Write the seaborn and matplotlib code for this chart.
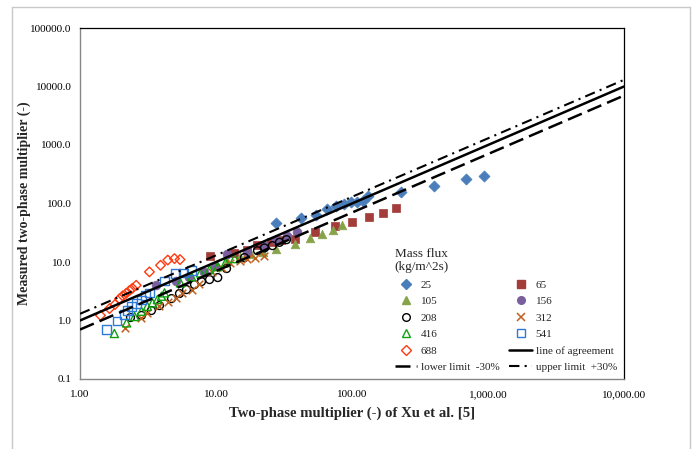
import matplotlib
matplotlib.use("Agg")
import matplotlib.pyplot as plt
import seaborn as sns
import numpy as np
from matplotlib.lines import Line2D
from matplotlib.ticker import FixedLocator, FuncFormatter

sns.set_theme(style="white")
plt.rcParams['font.family'] = ['Liberation Serif', 'DejaVu Serif']

# ---- data ----
x25 = [27.7, 42.3, 54.6, 65.5, 76.7, 87.4, 98.3, 109.2, 120, 132.2, 230, 404, 691, 942]
y25 = [47.0, 57.2, 64.4, 81.5, 89.9, 99.2, 104.4, 106, 109.5, 133.2, 156, 199, 262, 300]

x65 = [8.96, 13.45, 16.8, 19.9, 25.2, 30.3, 38.4, 53, 75.6, 100.3, 132.9, 168.5, 211.3]
y65 = [12.5, 14.5, 16.3, 19.8, 22.3, 24.1, 25.1, 32.6, 41.8, 48, 58.4, 69.7, 84.1]

x105 = [12.0, 15.0, 18.0, 22.0, 27.7, 38.2, 48.7, 60.2, 72.2, 84.7]
y105 = [10.5, 12.0, 13.5, 15.0, 16.7, 20.4, 25.8, 30.2, 35.0, 43.5]

x156 = [3.65, 5.12, 6.38, 8.23, 9.75, 11.95, 16.8, 23.1, 27.8, 33, 39.1]
y156 = [4.11, 4.82, 5.63, 6.86, 8.68, 13.9, 15.05, 18.5, 24.1, 27.5, 32.4]

x208 = [2.35, 2.83, 3.35, 3.84, 4.71, 5.39, 6.07, 6.95, 7.82, 8.96, 10.3, 11.95, 16.2, 20.2, 22.7, 26.0, 29.3, 33]
y208 = [1.125, 1.22, 1.48, 1.80, 2.37, 2.89, 3.38, 4.11, 4.63, 5.01, 5.42, 7.72, 11.9, 15.6, 17.4, 19.05, 21.7, 24.1]

x312 = [2.14, 2.81, 3.13, 3.84, 4.40, 5.12, 5.67, 6.61, 7.56, 9.42, 10.98, 12.57, 14.9, 17.0, 19.5, 22.4]
y312 = [0.73, 1.125, 1.32, 1.77, 2.07, 2.47, 3.0, 3.38, 4.28, 6.86, 8.02, 9.77, 10.57, 11.43, 11.9, 12.9]

x416 = [1.79, 2.20, 2.52, 2.83, 3.13, 3.41, 3.71, 3.97, 4.18, 5.48, 6.61, 7.69, 8.96, 10.3, 11.75, 13.7]
y416 = [0.60, 0.91, 1.17, 1.44, 1.75, 2.0, 2.28, 2.60, 2.97, 4.40, 5.63, 6.52, 7.42, 8.35, 9.77, 11.43]

x541 = [1.57, 1.87, 2.12, 2.23, 2.39, 2.60, 2.83, 3.03, 3.24, 4.18, 5.04, 5.77, 6.61]
y541 = [0.70, 0.97, 1.27, 1.48, 1.73, 1.95, 2.24, 2.67, 2.97, 4.68, 6.34, 6.52, 7.13]

x688 = [1.415, 1.65, 1.81, 1.95, 2.06, 2.19, 2.31, 2.43, 2.59, 3.24, 3.91, 4.42, 4.95, 5.44]
y688 = [1.22, 1.60, 1.875, 2.35, 2.64, 2.92, 3.25, 3.56, 4.0, 6.78, 8.79, 10.8, 11.43, 11.0]

line_x = [1.0, 10000.0]
agreement = [1.0, 10000.0]
lower_factor = 0.7
upper_factor = 1.3

x_ticks = [1, 10, 100, 1000, 10000]
y_ticks = [0.1, 1, 10, 100, 1000, 10000, 100000]

# ---- figure ----
fig = plt.figure(figsize=(6.97, 4.49), dpi=100)
fig.patch.set_facecolor("white")
ax = fig.add_axes([80 / 697, 1 - 379 / 449, 544 / 697, 351 / 449])
ax.set_facecolor("white")

# outer chart border
border_col = "#C8C8C8"
fig.add_artist(Line2D([12 / 697, 12 / 697], [-0.1, 1 - 7 / 449], color=border_col, lw=1.0))
fig.add_artist(Line2D([12 / 697, 690 / 697], [1 - 7 / 449, 1 - 7 / 449], color=border_col, lw=1.0))
fig.add_artist(Line2D([690 / 697, 690 / 697], [-0.1, 1 - 7 / 449], color=border_col, lw=1.0))

series = [
    ("25", x25, y25, "D", "#4A7EBB", True, 32),
    ("65", x65, y65, "s", "#A33D3A", True, 36),
    ("105", x105, y105, "^", "#86A34A", True, 38),
    ("156", x156, y156, "o", "#7A5F9E", True, 40),
    ("208", x208, y208, "o", "#000000", False, 32),
    ("312", x312, y312, "x", "#C0601C", False, 30),
    ("416", x416, y416, "^", "#10A010", False, 34),
    ("541", x541, y541, "s", "#2F7AD6", False, 36),
    ("688", x688, y688, "D", "#FF3A10", False, 24),
]

handles = {}
for name, xs, ys, mk, col, filled, s in series:
    if mk == "x":
        sns.scatterplot(x=xs, y=ys, ax=ax, marker="x", s=s, color=col,
                        linewidth=1.1, zorder=3)
        h = Line2D([], [], ls="none", marker="x", color=col, markersize=5.5, mew=1.1)
    elif filled:
        sns.scatterplot(x=xs, y=ys, ax=ax, marker=mk, s=s, color=col,
                        edgecolor=col, linewidth=0.5, zorder=3)
        h = Line2D([], [], ls="none", marker=mk, color=col, mec=col,
                   markersize=5.5)
    else:
        sns.scatterplot(x=xs, y=ys, ax=ax, marker=mk, s=s, facecolor="none",
                        edgecolor=col, linewidth=1.0, zorder=3)
        h = Line2D([], [], ls="none", marker=mk, mfc="none", mec=col,
                   markersize=5.5, mew=1.0)
    handles[name] = h

lx = np.array(line_x)
la = np.array(agreement)
sns.lineplot(x=lx, y=la, ax=ax, color="black", lw=1.8, zorder=5)
sns.lineplot(x=lx, y=la * lower_factor, ax=ax, color="black", lw=1.8,
             zorder=5).lines[-1].set_dashes((6, 2.5))
l_up = sns.lineplot(x=lx, y=la * upper_factor, ax=ax, color="black", lw=1.5,
                    zorder=5).lines[-1]
l_up.set_dashes((5, 2.5, 1, 2.5))

ax.set_xscale("log")
ax.set_yscale("log")
ax.set_xlim(1, 10000)
ax.set_ylim(0.1, 100000)

ax.xaxis.set_major_locator(FixedLocator(x_ticks))
ax.yaxis.set_major_locator(FixedLocator(y_ticks))
ax.xaxis.set_minor_locator(FixedLocator([]))
ax.yaxis.set_minor_locator(FixedLocator([]))
ax.xaxis.set_major_formatter(FuncFormatter(lambda v, p: "{:,.2f}".format(v)))
ax.yaxis.set_major_formatter(FuncFormatter(lambda v, p: "{:.1f}".format(v)))
ax.tick_params(axis="both", which="major", labelsize=8, length=3, width=0.8,
               color="#868686", direction="out", labelcolor="black")
ax.tick_params(axis="y", pad=3)
ax.tick_params(axis="x", pad=5)
ax.grid(False)

for side in ["left", "bottom"]:
    ax.spines[side].set_color("#868686")
    ax.spines[side].set_linewidth(1.0)
for side in ["top", "right"]:
    ax.spines[side].set_color("black")
    ax.spines[side].set_linewidth(0.9)

ax.set_xlabel("Two-phase multiplier (-) of Xu et al. [5]", fontsize=10.6,
              fontweight="bold")
ax.set_ylabel("Measured two-phase multiplier (-)", fontsize=10,
              fontweight="bold")
ax.xaxis.set_label_coords(0.5, -0.077)
ax.yaxis.set_label_coords(-0.09, 0.5)

h_agree = Line2D([], [], color="black", lw=1.8)
h_low = Line2D([], [], color="black", lw=1.8, dashes=(6, 2.5))
h_up = Line2D([], [], color="black", lw=1.5, dashes=(5, 2.5, 1, 2.5))

leg_handles = [handles["25"], handles["105"], handles["208"], handles["416"],
               handles["688"], h_low,
               handles["65"], handles["156"], handles["312"], handles["541"],
               h_agree, h_up]
leg_labels = ["25", "105", "208", "416", "688", "lower limit  -30%",
              "65", "156", "312", "541", "line of agreement", "upper limit  +30%"]
leg = ax.legend(leg_handles, leg_labels, ncol=2, loc="upper left",
                bbox_to_anchor=(0.568, 0.39), frameon=False, fontsize=8,
                title="Mass flux\n(kg/m^2s)", title_fontsize=9.5,
                handlelength=2.0, handletextpad=0.35, columnspacing=0.9,
                labelspacing=0.6, borderpad=0.0, alignment="left")
leg.set_zorder(6)

fig.savefig("out.png", dpi=100, facecolor="white")
